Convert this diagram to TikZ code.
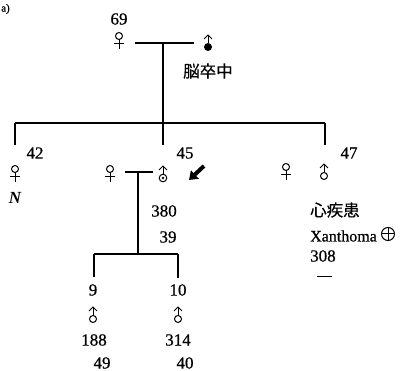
\documentclass[tikz,border=0pt]{standalone}
\usepackage{fontspec}
\setmainfont{Liberation Serif}
\newfontface\numfont{Liberation Serif}[FakeBold=0.6]
\newfontface\numit{Liberation Serif Bold Italic}
\newfontface\cjk{Noto Sans CJK JP}[FakeBold=0.4]
\usetikzlibrary{arrows.meta}
\tikzset{
  ln/.style={line width=1.8pt},
  sy/.style={line width=1pt},
  num/.style={font=\numfont\fontsize{17}{17}\selectfont, inner sep=0pt},
  cj/.style={font=\cjk\fontsize{16.5}{16.5}\selectfont, inner sep=0pt, anchor=west},
  femsym/.pic={
    \draw[sy] (0,0) circle (3.5pt);
    \draw[sy] (0,3.5) -- (0,13);
    \draw[sy] (-5,7.5) -- (5,7.5);
  },
  malesym/.pic={
    \draw[sy] (0,0) circle (3.5pt);
    \draw[sy] (0,-3.5) -- (0,-12);
    \draw[sy] (-4,-8) -- (0,-12) -- (4,-8);
  },
  maleaff/.pic={
    \fill (0,0) circle (4pt);
    \draw[sy] (0,-3.5) -- (0,-12);
    \draw[sy] (-4,-8) -- (0,-12) -- (4,-8);
  },
  maleprob/.pic={
    \draw[sy] (0,0) circle (3.8pt);
    \fill (0,0) circle (1.3pt);
    \draw[sy] (0,-3.8) -- (0,-12);
    \draw[sy] (-4,-8) -- (0,-12) -- (4,-8);
  }
}
\begin{document}
\begin{tikzpicture}[x=1pt,y=-1pt]
\useasboundingbox (0,0) rectangle (413,371);
% label
\node[inner sep=0pt, anchor=west, font=\numfont\fontsize{11}{11}\selectfont] (lab) at (1,9) {a)};
% generation I
\pic at (119,36) {femsym};
\pic at (208,47) {maleaff};
\node[num] (n69) at (119,19) {69};
\coordinate (m1l) at (135,43);
\coordinate (m1r) at (194,43);
\coordinate (m1c) at (163,43);
\draw[ln] (m1l) -- (m1r);
\node[cj] (stroke) at (183,71) {脳卒中};
% sibship line
\coordinate (s1) at (163,123);
\coordinate (sl) at (15,123);
\coordinate (sr) at (325,123);
\draw[ln] (m1c) -- (s1);
\draw[ln] (sl) -- (sr);
\coordinate (sld) at (15,145);
\coordinate (smd) at (163,145);
\coordinate (srd) at (325,145);
\draw[ln] (sl) -- (sld);
\draw[ln] (s1) -- (smd);
\draw[ln] (sr) -- (srd);
% generation II
\node[num] (n42) at (35,153) {42};
\pic at (15,169) {femsym};
\node[inner sep=0pt, font=\numit\fontsize{17}{17}\selectfont] (nN) at (15,198) {N};
\node[num] (n45) at (185,153) {45};
\pic at (110,169) {femsym};
\pic at (163,178) {maleprob};
\coordinate (m2l) at (125,172);
\coordinate (m2r) at (153,172);
\coordinate (m2c) at (138,172);
\draw[ln] (m2l) -- (m2r);
\draw[-{Triangle[length=8pt,width=11pt]}, line width=4pt] (204,166) -- (189,180);
\node[num] (n47) at (349,153) {47};
\pic at (286,167) {femsym};
\pic at (324,176) {malesym};
\node[cj] (heart) at (310,210) {心疾患};
\node[inner sep=0pt, anchor=west, font=\numfont\fontsize{16}{16}\selectfont] (xan) at (310,236) {Xanthoma};
\draw[line width=1pt] (388,234) circle (6.5pt);
\draw[line width=1pt] (381.5,234) -- (394.5,234) (388,227.5) -- (388,240.5);
\node[num, anchor=west] (n308) at (310,256) {308};
\coordinate (dl) at (317,277);
\coordinate (dr) at (332,277);
\draw[line width=1pt] (dl) -- (dr);
% children
\coordinate (c1) at (138,254);
\coordinate (cl) at (94,254);
\coordinate (cr) at (178,254);
\draw[ln] (m2c) -- (c1);
\draw[ln] (cl) -- (cr);
\coordinate (cld) at (94,277);
\coordinate (crd) at (178,278);
\draw[ln] (cl) -- (cld);
\draw[ln] (cr) -- (crd);
\node[num] (n380) at (164,211) {380};
\node[num] (n39) at (168,237) {39};
% generation III
\node[num] (n9) at (93,290) {9};
\node[num] (n10) at (178,290) {10};
\pic at (93,319) {malesym};
\pic at (178,319) {malesym};
\node[num] (n188) at (94,340) {188};
\node[num] (n314) at (178,340) {314};
\node[num] (n49) at (102,363) {49};
\node[num] (n40) at (185,363) {40};
\end{tikzpicture}
\end{document}
